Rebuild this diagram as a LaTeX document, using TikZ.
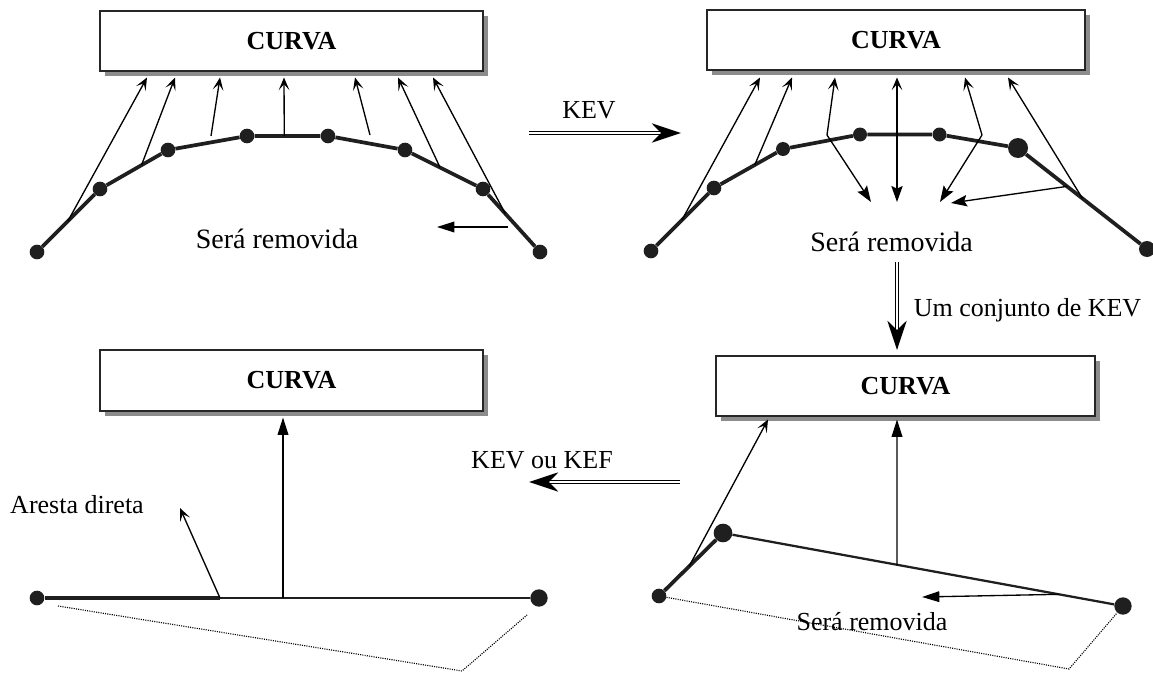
\documentclass[tikz,border=0pt]{standalone}
\usepackage{fontspec}
\setmainfont{Liberation Serif}
\usetikzlibrary{arrows.meta,calc,shadows}

\begin{document}
\begin{tikzpicture}[x=0.75pt,y=-0.75pt,
  curvebox/.style={draw=black!85, line width=1.3pt, fill=white,
    minimum width=#1, minimum height=45.5pt, inner sep=0pt,
    font=\fontsize{19.5}{22}\selectfont\bfseries,
    drop shadow={shadow xshift=3.8pt, shadow yshift=-3.8pt, fill=black!45, opacity=1}},
  vtx/.style={circle, fill=black!88, inner sep=0pt, minimum size=#1},
  vtx/.default=11pt,
  edge/.style={line width=2.8pt, black!88},
  thinedge/.style={line width=1.7pt, black!88},
  probe/.style={line width=1pt, -{Stealth[length=9.5pt,width=8pt,inset=4.5pt]}},
  probeboth/.style={line width=1pt, {Stealth[length=9.5pt,width=8pt,inset=4.5pt]}-{Stealth[length=12pt,width=8.5pt,inset=2pt]}},
  drop/.style={line width=1pt, -{Stealth[length=12pt,width=8.5pt,inset=2pt]}},
  solidtip/.style={line width=1pt, -{Triangle[length=13pt,width=8pt]}},
  step arrow/.style={line width=1.2pt, double, double distance=1.2pt,
    -{Stealth[length=22pt,width=14.5pt,inset=7pt]}},
  removal/.style={line width=0.85pt, dash pattern=on 0.8pt off 0.9pt},
  lbl/.style={inner sep=0pt, font=\fontsize{19.5}{22}\selectfont},
  biglbl/.style={inner sep=0pt, font=\fontsize{21}{24}\selectfont}
]
\useasboundingbox (0,0) rectangle (1153,674);

% ---------------- top left: original curve ----------------
\node[curvebox=287.25pt] (B1) at (291.5,41) {CURVA};
\node[vtx] (v0) at (37,252) {};
\node[vtx] (v1) at (100,189) {};
\node[vtx] (v2) at (168,150) {};
\node[vtx] (v3) at (247,136) {};
\node[vtx] (v4) at (328,136) {};
\node[vtx] (v5) at (405,150) {};
\node[vtx] (v6) at (483,189) {};
\node[vtx] (v7) at (540,252) {};
\draw[edge] (v0) -- (v1) -- (v2) -- (v3) -- (v4) -- (v5) -- (v6) -- (v7);

\coordinate (s1) at ($(v0)!0.49!(v1)$);
\coordinate (s2) at ($(v1)!0.61!(v2)$);
\coordinate (s3) at (211,136);
\coordinate (s4) at ($(v3)!0.46!(v4)$);
\coordinate (s5) at (370,135);
\coordinate (s6) at ($(v5)!0.45!(v6)$);
\coordinate (s7) at ($(v6)!0.39!(v7)$);
\coordinate (t1) at (147,77.5);
\coordinate (t2) at (175,77.5);
\coordinate (t3) at (220,77.5);
\coordinate (t4) at (284,77.5);
\coordinate (t5) at (355,77.5);
\coordinate (t6) at (398,77.5);
\coordinate (t7) at (433,77.5);
\foreach \i in {1,...,7} \draw[probe] (s\i) -- (t\i);

\coordinate (h1s) at (508,227);
\coordinate (h1t) at (437,227);
\draw[solidtip] (h1s) -- (h1t);
\node[biglbl] (r1) at (277,239) {Será removida};

% ---------------- KEV step ----------------
\coordinate (k1s) at (529,133);
\coordinate (k1t) at (681,133);
\draw[step arrow] (k1s) -- (k1t);
\node[lbl] (kev) at (589,110) {KEV};

% ---------------- top right: after one KEV ----------------
\node[curvebox=283.5pt] (B2) at (896,40) {CURVA};
\node[vtx] (w0) at (651,251) {};
\node[vtx] (w1) at (714,188) {};
\node[vtx=10.5pt] (w2) at (783,149) {};
\node[vtx=10.5pt] (w3) at (860,134.5) {};
\node[vtx=10.5pt] (w4) at (939.5,134.5) {};
\node[vtx=15pt] (w5) at (1018,148) {};
\node[vtx=12pt] (w6) at (1147,249) {};
\draw[edge] (w0) -- (w1) -- (w2) -- (w3) -- (w4) -- (w5) -- (w6);

\coordinate (c1) at ($(w0)!0.49!(w1)$);
\coordinate (c2) at ($(w1)!0.59!(w2)$);
\coordinate (c3) at (827,135);
\coordinate (c5) at (982,135);
\coordinate (c6) at ($(w5)!0.5!(w6)$);
\coordinate (c7) at ($(w5)!0.38!(w6)$);
\coordinate (e1) at (760,77.5);
\coordinate (e2) at (792,77.5);
\coordinate (e3) at (835,77.5);
\coordinate (e5) at (965,77.5);
\coordinate (e6) at (1008,77.5);
\coordinate (d3) at (871,202);
\coordinate (d5) at (940,202);
\coordinate (d7) at (951,203);
\coordinate (g4a) at (897,77.5);
\coordinate (g4b) at (897,202);
\draw[probe] (c1) -- (e1);
\draw[probe] (c2) -- (e2);
\draw[probe] (c3) -- (e3);
\draw[drop] (c3) -- (d3);
\draw[probeboth] (g4a) -- (g4b);
\draw[probe] (c5) -- (e5);
\draw[drop] (c5) -- (d5);
\draw[probe] (c6) -- (e6);
\draw[drop] (c7) -- (d7);
\node[biglbl] (r2) at (891.5,242) {Será removida};

% ---------------- set of KEV ----------------
\coordinate (m1s) at (897,262);
\coordinate (m1t) at (897,350);
\draw[step arrow] (m1s) -- (m1t);
\node[lbl] (setkev) at (1027.5,310) {Um conjunto de KEV};

% ---------------- bottom right ----------------
\node[curvebox=284.25pt] (B4) at (905.5,386) {CURVA};
\node[vtx] (u0) at (659,596) {};
\node[vtx=14pt] (u1) at (723,533) {};
\node[vtx=13pt] (u2) at (1123,606) {};
\draw[edge] (u0) -- (u1);
\draw[thinedge] (u1) -- (u2);
\coordinate (ucorner) at (1069,669);
\draw[removal] (u0) -- (ucorner) -- (u2);

\coordinate (q1s) at ($(u0)!0.47!(u1)$);
\coordinate (q2s) at ($(u1)!0.435!(u2)$);
\coordinate (q3s) at ($(u1)!0.84!(u2)$);
\coordinate (q1t) at (768,419.5);
\coordinate (q2t) at (897,419.5);
\coordinate (q3t) at (922,597);
\draw[probe] (q1s) -- (q1t);
\draw[solidtip] (q2s) -- (q2t);
\draw[solidtip] (q3s) -- (q3t);
\node[lbl] (r4) at (872,622) {Será removida};

% ---------------- KEV or KEF ----------------
\coordinate (n1s) at (680,482);
\coordinate (n1t) at (529,482);
\draw[step arrow] (n1s) -- (n1t);
\node[lbl] (kevkef) at (542,460) {KEV ou KEF};

% ---------------- bottom left: straight edge ----------------
\node[curvebox=287.25pt] (B3) at (291.5,380.5) {CURVA};
\node[vtx] (p0) at (37,598) {};
\node[vtx=13pt] (p1) at (539,598) {};
\coordinate (pm) at (220,598);
\draw[line width=2.3pt, black!88] (p0) -- (pm);
\draw[line width=1.4pt, black!88] (pm) -- (p1);
\coordinate (pc) at (283,598);
\coordinate (pct) at (283,417.5);
\draw[solidtip] (pc) -- (pct);
\coordinate (pat) at (180,508);
\draw[probe] (pm) -- (pat);
\node[lbl] (aresta) at (77,505) {Aresta direta};
\coordinate (f0) at (58,606);
\coordinate (fcorner) at (462,671);
\coordinate (f1) at (527,615);
\draw[removal] (f0) -- (fcorner) -- (f1);

\end{tikzpicture}
\end{document}
